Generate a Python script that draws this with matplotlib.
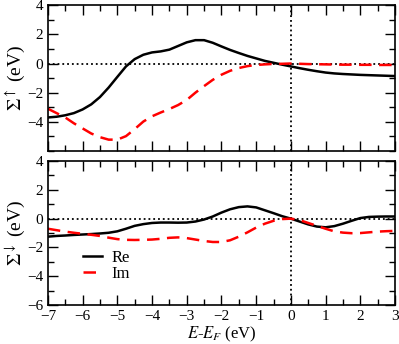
import numpy as np
import matplotlib
matplotlib.use('Agg')
import matplotlib.pyplot as plt
from matplotlib.ticker import MultipleLocator

plt.rcParams['font.family'] = ['Liberation Serif', 'DejaVu Serif']
plt.rcParams['mathtext.fontset'] = 'stix'

energy = np.arange(-7, 3.001, 0.25)

up_re = [-3.70, -3.65, -3.55, -3.40, -3.15, -2.80, -2.30, -1.65, -0.92, -0.20,
         0.30, 0.60, 0.76, 0.83, 0.95, 1.20, 1.45, 1.60, 1.60, 1.42,
         1.17, 0.93, 0.72, 0.52, 0.35, 0.18, 0.05, -0.08, -0.20, -0.32,
         -0.43, -0.53, -0.62, -0.68, -0.72, -0.75, -0.78, -0.80, -0.82, -0.84,
         -0.86]
up_im = [-3.10, -3.40, -3.70, -4.10, -4.45, -4.80, -5.05, -5.22, -5.22, -4.98,
         -4.50, -3.98, -3.62, -3.36, -3.12, -2.85, -2.50, -2.00, -1.55, -1.12,
         -0.77, -0.50, -0.31, -0.18, -0.10, -0.06, -0.03, -0.02, 0.00, -0.02,
         -0.04, -0.05, -0.06, -0.07, -0.08, -0.08, -0.09, -0.09, -0.10, -0.10,
         -0.10]
dn_re = [-1.25, -1.20, -1.17, -1.13, -1.10, -1.07, -1.03, -0.98, -0.88, -0.70,
         -0.50, -0.38, -0.30, -0.27, -0.27, -0.28, -0.27, -0.20, -0.06, 0.15,
         0.42, 0.65, 0.80, 0.85, 0.78, 0.58, 0.38, 0.17, 0.00, -0.20,
         -0.40, -0.55, -0.60, -0.52, -0.35, -0.15, 0.04, 0.12, 0.14, 0.15,
         0.15]
dn_im = [-0.70, -0.80, -0.90, -0.98, -1.05, -1.12, -1.20, -1.32, -1.42, -1.47,
         -1.48, -1.47, -1.45, -1.40, -1.33, -1.30, -1.35, -1.45, -1.55, -1.62,
         -1.62, -1.50, -1.25, -0.95, -0.62, -0.35, -0.15, -0.03, 0.00, -0.10,
         -0.30, -0.50, -0.70, -0.88, -0.97, -1.01, -1.00, -0.95, -0.90, -0.87,
         -0.85]

fig = plt.figure(figsize=(3.99, 3.44), dpi=100)
ax1 = fig.add_axes([0.120, 0.561, 0.870, 0.424])
ax2 = fig.add_axes([0.120, 0.113, 0.870, 0.419])

for ax, re, im, lab in [(ax1, up_re, up_im, r'$\Sigma^{\uparrow}$ (eV)'),
                        (ax2, dn_re, dn_im, r'$\Sigma^{\downarrow}$ (eV)')]:
    ax.axhline(0, color='k', ls=':', lw=1.3)
    ax.axvline(0, color='k', ls=':', lw=1.3)
    ax.plot(energy, re, color='k', lw=1.8, label='Re')
    ax.plot(energy, im, color='#ff0000', lw=1.8, ls=(0, (5, 3)), label='Im')
    ax.set_xlim(-7, 3)
    ax.set_ylim(-6, 4)
    ax.xaxis.set_major_locator(MultipleLocator(1))
    ax.xaxis.set_minor_locator(MultipleLocator(0.5))
    ax.yaxis.set_major_locator(MultipleLocator(2))
    ax.yaxis.set_minor_locator(MultipleLocator(1))
    ax.tick_params(which='both', direction='in', top=True, right=True, labelsize=11, width=1)
    ax.tick_params(which='major', length=7)
    ax.tick_params(which='minor', length=4)
    for s in ax.spines.values():
        s.set_linewidth(1.2)
    ax.set_ylabel(lab, fontsize=14, labelpad=0)

ax1.set_xticklabels([])
ax1.set_yticks([-4, -2, 0, 2, 4])
ax1.yaxis.set_minor_locator(MultipleLocator(1))
ax1.set_ylim(-6, 4)
ax2.set_xlabel(r'$E$-$E_F$ (eV)', fontsize=12, labelpad=1)
ax2.legend(loc='center left', bbox_to_anchor=(0.10, 0.274), frameon=False, fontsize=12,
           handlelength=1.15, handletextpad=0.6, labelspacing=0.0, borderpad=0,
           borderaxespad=0)

fig.savefig('out.png', dpi=100)
